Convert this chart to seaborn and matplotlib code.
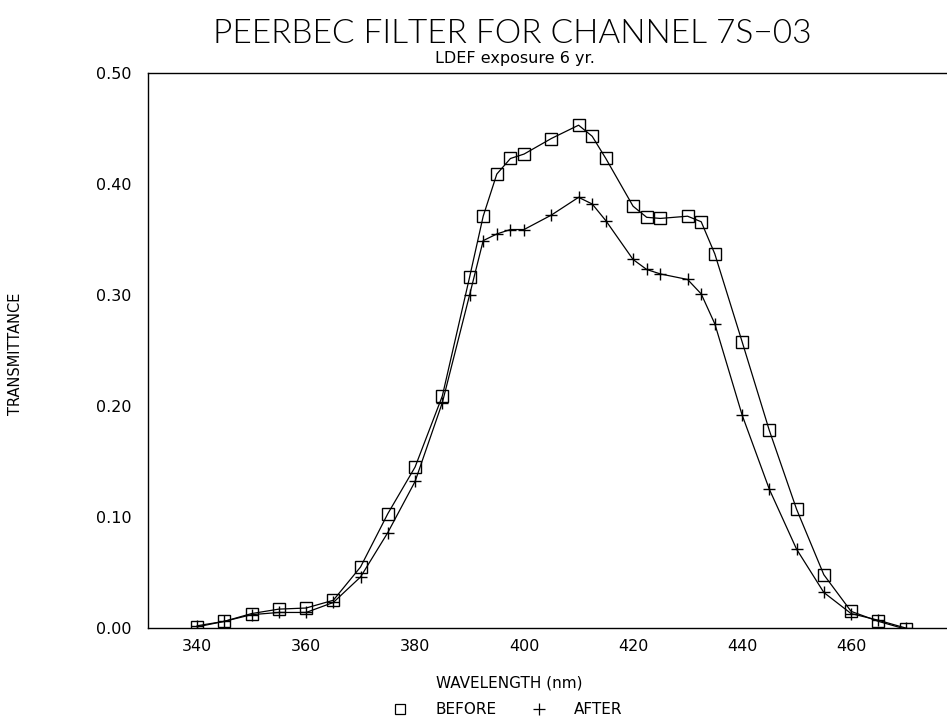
import pandas as pd
import matplotlib
matplotlib.use('Agg')
import matplotlib.pyplot as plt
from matplotlib.lines import Line2D
from matplotlib.ticker import MultipleLocator
import seaborn as sns

# wavelength (nm) and transmittance
wavelength = [340, 345, 350, 355, 360, 365, 370, 375, 380, 385, 390, 392.5, 395,
              397.5, 400, 405, 410, 412.5, 415, 420, 422.5, 425, 430, 432.5, 435,
              440, 445, 450, 455, 460, 465, 470]
before = [0.001, 0.006, 0.013, 0.017, 0.018, 0.025, 0.055, 0.103, 0.145, 0.209,
          0.316, 0.371, 0.409, 0.423, 0.427, 0.441, 0.453, 0.443, 0.423, 0.380,
          0.370, 0.369, 0.371, 0.366, 0.337, 0.258, 0.178, 0.107, 0.048, 0.015,
          0.006, -0.001]
after = [0.002, 0.006, 0.012, 0.014, 0.014, 0.023, 0.046, 0.086, 0.132, 0.203,
         0.300, 0.349, 0.355, 0.359, 0.359, 0.372, 0.388, 0.382, 0.367, 0.332,
         0.323, 0.319, 0.314, 0.301, 0.274, 0.192, 0.125, 0.071, 0.032, 0.013,
         0.007, 0.000]
x_ticks = [340, 360, 380, 400, 420, 440, 460]
y_ticks = [0.0, 0.1, 0.2, 0.3, 0.4, 0.5]

sns.set_style('white')
plt.rcParams['font.family'] = ['DejaVu Sans']
plt.rcParams['text.color'] = 'black'
plt.rcParams['xtick.color'] = 'black'
plt.rcParams['ytick.color'] = 'black'
plt.rcParams['axes.labelcolor'] = 'black'

df = pd.DataFrame({'wl': wavelength, 'before': before, 'after': after})

fig = plt.figure(figsize=(9.47, 7.23), dpi=100)
ax = fig.add_axes([0.1563, 0.1314, 0.8437, 0.7676])

sns.lineplot(data=df, x='wl', y='before', ax=ax, color='black', lw=0.9,
             marker='s', markersize=8.5, markerfacecolor='none',
             markeredgecolor='black', markeredgewidth=1.0, sort=False)
sns.lineplot(data=df, x='wl', y='after', ax=ax, color='black', lw=0.9,
             marker='+', markersize=9, markeredgecolor='black',
             markeredgewidth=1.0, sort=False)

ax.set_xlim(331, 477.6)
ax.set_ylim(0, 0.5)
ax.set_xticks(x_ticks)
ax.xaxis.set_minor_locator(MultipleLocator(10))
ax.set_yticks(y_ticks)
ax.set_yticklabels([f'{v:.2f}' for v in y_ticks])
ax.tick_params(axis='both', which='both', direction='in', length=6, width=0.9,
               color='black', labelsize=11.5, pad=8)
ax.tick_params(axis='y', pad=12)
ax.tick_params(top=False, right=False)
for side in ['left', 'bottom', 'top']:
    ax.spines[side].set_color('black')
    ax.spines[side].set_linewidth(1.0)
ax.spines['right'].set_visible(False)
ax.set_xlabel('')
ax.set_ylabel('')

fig.text(0.541, 0.953, 'PEERBEC FILTER FOR CHANNEL 7S\u221203', ha='center',
         va='center', fontsize=24, family=['Lato', 'DejaVu Sans'], fontweight=300)
fig.text(0.544, 0.919, 'LDEF exposure 6 yr.', ha='center', va='center', fontsize=11.5)
fig.text(0.016, 0.51, 'TRANSMITTANCE', rotation=90, ha='center', va='center', fontsize=10.5)
fig.text(0.538, 0.055, 'WAVELENGTH (nm)', ha='center', va='center', fontsize=11)

handles = [Line2D([], [], ls='none', marker='s', markersize=7, markerfacecolor='none',
                  markeredgecolor='black', markeredgewidth=0.9),
           Line2D([], [], ls='none', marker='+', markersize=8, color='black',
                  markeredgewidth=0.9)]
fig.legend(handles, ['BEFORE', 'AFTER'], loc='center', bbox_to_anchor=(0.532, 0.018),
           ncol=2, frameon=False, fontsize=11, handletextpad=1.3, columnspacing=1.8)

fig.savefig('out.png', dpi=100)
